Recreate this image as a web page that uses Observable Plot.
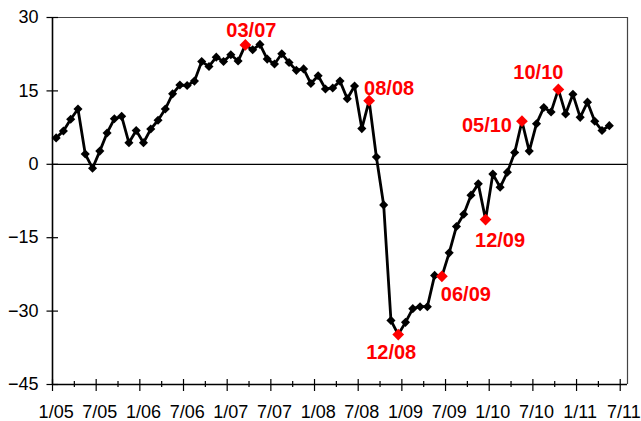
<!DOCTYPE html>
<html>
<head>
<meta charset="utf-8">
<script src="https://cdn.jsdelivr.net/npm/d3@7"></script>
<script src="https://cdn.jsdelivr.net/npm/@observablehq/plot@0.6"></script>
<style>
  body { margin: 0; background: #fff; }
  #chart svg { display: block; }
</style>
</head>
<body>
<div id="chart"></div>
<script>
// Monthly values, January 2005 (index 0) to May 2011 (index 76)
const values = [
  5.4, 6.8, 9.2, 11.3, 2.1, -0.8, 2.7, 6.4, 9.3, 9.8, 4.4, 6.9,        // 2005
  4.4, 7.2, 9.0, 11.3, 14.4, 16.2, 16.1, 17.0, 21.0, 20.0, 21.9, 21.0, // 2006
  22.4, 21.1, 24.4, 23.4, 24.5, 21.5, 20.5, 22.6, 20.8, 19.2, 19.5, 16.5, // 2007
  18.1, 15.4, 15.6, 17.0, 13.4, 16.0, 7.3, 13.0, 1.5, -8.3, -31.9, -34.8, // 2008
  -32.3, -29.5, -29.1, -29.1, -22.7, -22.9, -18.1, -12.7, -10.2, -6.3, -4.0, -11.3, // 2009
  -2.0, -4.7, -1.6, 2.4, 8.8, 2.7, 8.3, 11.6, 10.7, 15.3, 10.3, 14.3,  // 2010
  9.6, 12.7, 8.8, 6.9, 7.9                                              // 2011
];
const xTickLabels = ["1/05","7/05","1/06","7/06","1/07","7/07","1/08","7/08","1/09","7/09","1/10","7/10","1/11","7/11"];
const yTicks = [-45, -30, -15, 0, 15, 30];
const highlightLabels = ["03/07", "08/08", "12/08", "06/09", "12/09", "05/10", "10/10"];

// ---- layout ----
const W = 641, H = 421;
const M = {left: 52, right: 14, top: 17, bottom: 37};
const xDomain = [0, 79];           // months on the category axis
const yDomain = [-45, 30];
const xPx = (W - M.left - M.right) / (xDomain[1] - xDomain[0]);
const yPx = (H - M.top - M.bottom) / (yDomain[1] - yDomain[0]);

// label placement (px offsets of label centre from its point)
const labelOffsets = {
  "03/07": [6, -14.5],
  "08/08": [20, -12.5],
  "12/08": [-7, 18.5],
  "06/09": [24, 18.5],
  "12/09": [14.5, 21],
  "05/10": [-35, 4],
  "10/10": [-20, -16.5]
};

const monthIndex = lbl => { const [m, y] = lbl.split("/").map(Number); return (y - 5) * 12 + (m - 1); };
const series = values.map((v, i) => ({i, v}));
const highlights = highlightLabels.map(l => ({label: l, i: monthIndex(l), v: values[monthIndex(l)]}));
const majorTicks = xTickLabels.map((_, k) => k * 6);
const minorTicks = xTickLabels.map((_, k) => k * 6 + 3).filter(t => t < xDomain[1]);
const labelPos = xTickLabels.map((_, k) => k * 6 + 0.5);

const font = "'Liberation Sans', Arial, Helvetica, sans-serif";

const chart = Plot.plot({
  width: W, height: H,
  marginLeft: M.left, marginRight: M.right, marginTop: M.top, marginBottom: M.bottom,
  style: {fontFamily: font, fontSize: "18px", color: "#000", background: "#fff", overflow: "visible"},
  x: {type: "linear", domain: xDomain},
  y: {type: "linear", domain: yDomain},
  marks: [
    // plot area border
    Plot.ruleY([yDomain[1]], {stroke: "#444", strokeWidth: 1.2}),
    Plot.ruleX([xDomain[1]], {stroke: "#444", strokeWidth: 1.2}),
    // zero line
    Plot.ruleY([0], {stroke: "#000", strokeWidth: 1.2}),
    // axes lines
    Plot.ruleX([xDomain[0]], {stroke: "#000", strokeWidth: 1.6}),
    Plot.ruleY([yDomain[0]], {stroke: "#000", strokeWidth: 1.6}),
    // y tick marks (cross the axis)
    Plot.ruleY(yTicks, {x1: xDomain[0] - 5.5 / xPx, x2: xDomain[0] + 6 / xPx, stroke: "#000", strokeWidth: 1.2}),
    // x tick marks
    Plot.ruleX(majorTicks, {y1: yDomain[0] + 5 / yPx, y2: yDomain[0] - 7 / yPx, stroke: "#000", strokeWidth: 1.2}),
    Plot.ruleX(minorTicks, {y1: yDomain[0] + 3 / yPx, y2: yDomain[0] - 3 / yPx, stroke: "#000", strokeWidth: 1.2}),
    // axis labels
    Plot.axisY(yTicks, {tickSize: 0, tickPadding: 14, label: null, fontSize: 18, fontFamily: font}),
    Plot.axisX(labelPos, {tickSize: 0, tickPadding: 21, label: null, fontSize: 18, fontFamily: font,
      tickFormat: d => xTickLabels[Math.round((d - 0.5) / 6)]}),
    // series
    Plot.line(series, {x: d => d.i + 0.5, y: "v", stroke: "#000", strokeWidth: 2.8, strokeLinejoin: "round"}),
    Plot.dot(series, {x: d => d.i + 0.5, y: "v", symbol: "diamond2", r: 4.1, fill: "#000", stroke: "none"}),
    Plot.dot(highlights, {x: d => d.i + 0.5, y: "v", symbol: "diamond2", r: 5.3, fill: "#ff0000", stroke: "none"}),
    ...highlights.map(h => Plot.text([h], {
      x: d => d.i + 0.5, y: "v", text: "label",
      dx: labelOffsets[h.label][0], dy: labelOffsets[h.label][1],
      fill: "#ff0000", fontWeight: "bold", fontSize: 20, fontFamily: font, textAnchor: "middle"
    }))
  ]
});
document.getElementById("chart").appendChild(chart);
</script>
</body>
</html>
